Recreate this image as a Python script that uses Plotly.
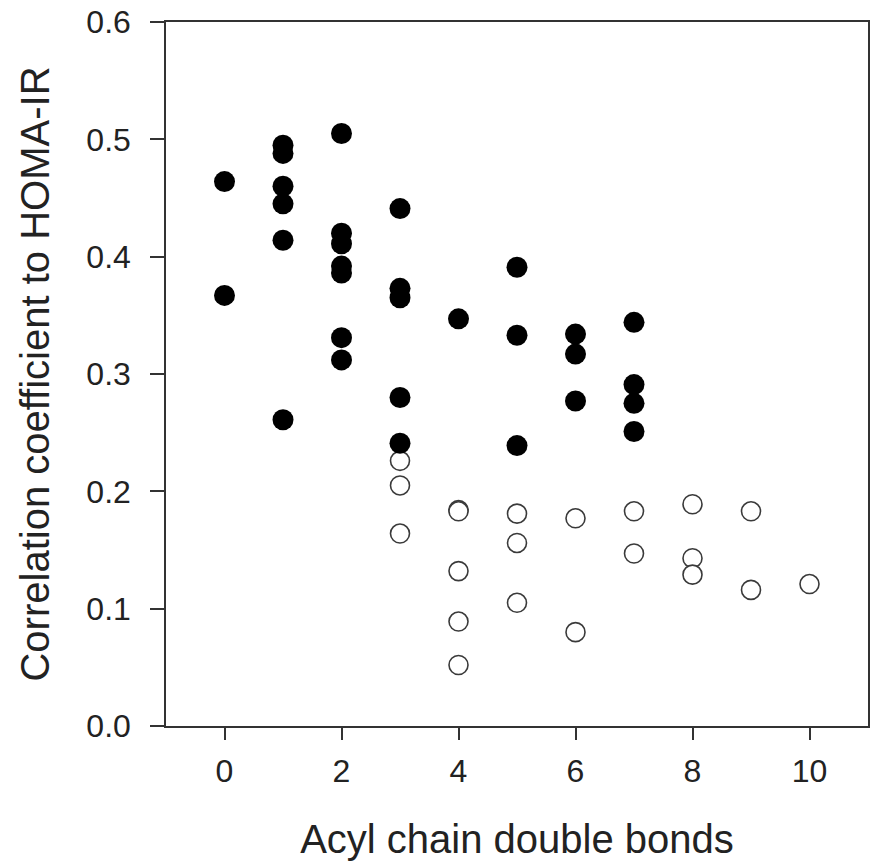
import plotly.graph_objects as go

# Filled circles (black)
filled_x = [0, 0,
            1, 1, 1, 1, 1, 1,
            2, 2, 2, 2, 2, 2, 2,
            3, 3, 3, 3, 3,
            4,
            5, 5, 5,
            6, 6, 6,
            7, 7, 7, 7]
filled_y = [0.464, 0.367,
            0.495, 0.488, 0.460, 0.445, 0.414, 0.261,
            0.505, 0.420, 0.411, 0.392, 0.386, 0.331, 0.312,
            0.441, 0.373, 0.365, 0.280, 0.241,
            0.347,
            0.391, 0.333, 0.239,
            0.334, 0.317, 0.277,
            0.344, 0.291, 0.275, 0.251]

# Open circles
open_x = [3, 3, 3,
          4, 4, 4, 4, 4,
          5, 5, 5,
          6, 6,
          7, 7,
          8, 8, 8,
          9, 9,
          10]
open_y = [0.226, 0.205, 0.164,
          0.184, 0.183, 0.132, 0.089, 0.052,
          0.181, 0.156, 0.105,
          0.177, 0.080,
          0.183, 0.147,
          0.189, 0.143, 0.129,
          0.183, 0.116,
          0.121]

x_ticks = [0, 2, 4, 6, 8, 10]
y_ticks = [0.0, 0.1, 0.2, 0.3, 0.4, 0.5, 0.6]
y_tick_labels = ["0.0", "0.1", "0.2", "0.3", "0.4", "0.5", "0.6"]

FONT = "Liberation Sans, Arial, sans-serif"
AX = "#333333"

fig = go.Figure()
fig.add_trace(go.Scatter(
    x=open_x, y=open_y, mode="markers",
    marker=dict(symbol="circle", size=19, color="white",
                line=dict(color="#3a3a3a", width=1.6)),
    showlegend=False, cliponaxis=False))
fig.add_trace(go.Scatter(
    x=filled_x, y=filled_y, mode="markers",
    marker=dict(symbol="circle", size=21, color="black",
                line=dict(width=0)),
    showlegend=False, cliponaxis=False))

fig.update_layout(
    width=873, height=863,
    margin=dict(l=166, r=3, t=22, b=137),
    paper_bgcolor="white", plot_bgcolor="white",
    font=dict(family=FONT, color="#222222"),
    xaxis=dict(
        range=[-1, 11], tickvals=x_ticks, ticktext=[str(v) for v in x_ticks],
        showgrid=False, zeroline=False,
        showline=True, linecolor=AX, linewidth=1.5, mirror=True,
        ticks="outside", ticklen=12, tickwidth=1.5, tickcolor=AX,
        tickfont=dict(size=32, family=FONT, color="#222222"),
        ticklabelstandoff=4,
        title=dict(text="Acyl chain double bonds",
                   font=dict(size=40, family=FONT, color="#222222"),
                   standoff=37),
    ),
    yaxis=dict(
        range=[0, 0.6], tickvals=y_ticks, ticktext=y_tick_labels,
        showgrid=False, zeroline=False,
        showline=True, linecolor=AX, linewidth=1.5, mirror=True,
        ticks="outside", ticklen=14, tickwidth=1.5, tickcolor=AX,
        tickfont=dict(size=32, family=FONT, color="#222222"),
        ticklabelstandoff=13,
        title=dict(text="Correlation coefficient to HOMA-IR",
                   font=dict(size=40, family=FONT, color="#222222"),
                   standoff=24),
    ),
)

fig.write_html("out.html",
               config={"displayModeBar": False},
               post_script="document.body.style.margin='0';document.body.style.overflow='hidden';")
